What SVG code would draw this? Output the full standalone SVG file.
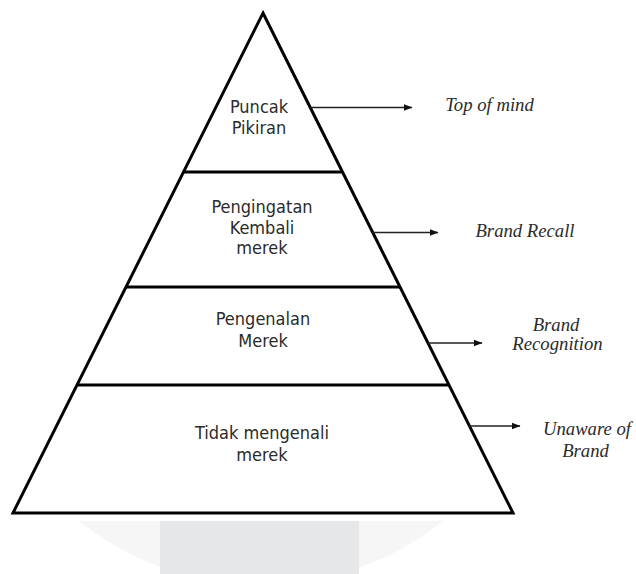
<svg xmlns="http://www.w3.org/2000/svg" width="636" height="574" viewBox="0 0 636 574">
<style>
.lvl{font-family:"DejaVu Sans Condensed","DejaVu Sans",sans-serif;font-size:18px;fill:#2b2b2b;text-anchor:middle}
.lab{font-family:"Liberation Serif",serif;font-style:italic;font-size:18.7px;fill:#2b2b2b;text-anchor:middle}
.edge{fill:none;stroke:#000;stroke-width:3;stroke-linejoin:miter}
.arr{stroke:#222;stroke-width:1.4;fill:none;marker-end:url(#ah)}
</style>
<defs>
<marker id="ah" markerWidth="9" markerHeight="8" refX="8.5" refY="4" orient="auto" markerUnits="userSpaceOnUse">
<path d="M0,0.5 L9,4 L0,7.5 Z" fill="#111"/>
</marker>
<clipPath id="wm"><rect x="0" y="521" width="636" height="53"/></clipPath>
</defs>
<rect width="636" height="574" fill="#fff"/>
<g id="watermark">
<circle cx="261" cy="294" r="291" fill="#f6f6f7" clip-path="url(#wm)"/>
<rect x="160" y="521" width="199" height="53" fill="#e6e7e9"/>
</g>
<g id="pyramid">
<path class="edge" d="M263,13 L513,513 L13,513 Z"/>
</g>
<g id="level1">
<text class="lvl" x="259" y="113">Puncak</text>
<text class="lvl" x="259" y="134">Pikiran</text>
</g>
<g id="level2">
<line class="edge" x1="183.5" y1="172" x2="342.5" y2="172"/>
<text class="lvl" x="262" y="213">Pengingatan</text>
<text class="lvl" x="262" y="234">Kembali</text>
<text class="lvl" x="262" y="254">merek</text>
</g>
<g id="level3">
<line class="edge" x1="126" y1="287" x2="400" y2="287"/>
<text class="lvl" x="263" y="325">Pengenalan</text>
<text class="lvl" x="263" y="347">Merek</text>
</g>
<g id="level4">
<line class="edge" x1="77" y1="385" x2="449" y2="385"/>
<text class="lvl" x="262" y="439">Tidak mengenali</text>
<text class="lvl" x="262" y="461">merek</text>
</g>
<g id="connectors">
<line class="arr" x1="310" y1="107.5" x2="412" y2="107.5"/>
<line class="arr" x1="372" y1="232.5" x2="438" y2="232.5"/>
<line class="arr" x1="428" y1="343" x2="482" y2="343"/>
<line class="arr" x1="469" y1="426" x2="520" y2="426"/>
</g>
<g id="labels">
<text class="lab" x="489.5" y="111">Top of mind</text>
<text class="lab" x="525" y="237">Brand Recall</text>
<text class="lab" x="556" y="331">Brand</text>
<text class="lab" x="557.5" y="350">Recognition</text>
<text class="lab" x="587" y="435">Unaware of</text>
<text class="lab" x="585.5" y="457">Brand</text>
</g>
</svg>
